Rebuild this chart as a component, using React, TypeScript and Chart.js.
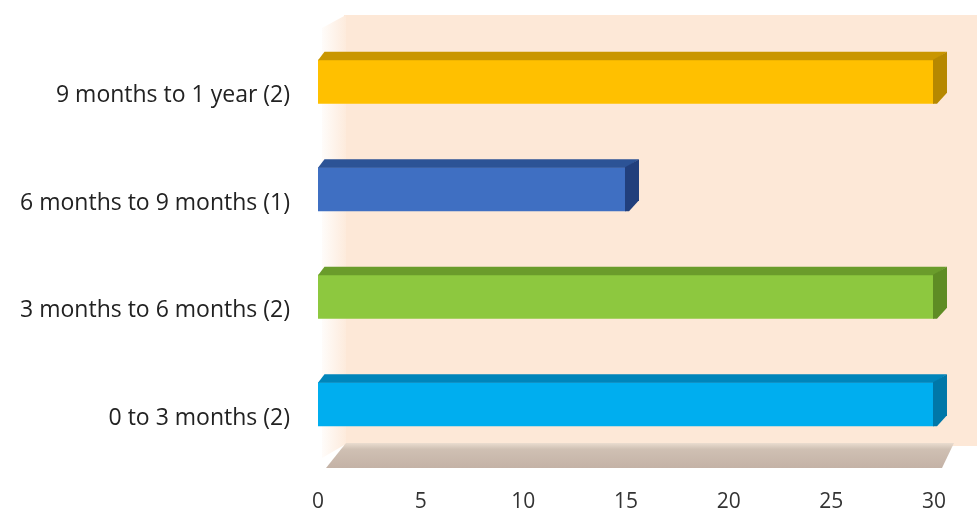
import React, { useEffect, useRef } from "react";
import { Chart, registerables } from "chart.js";

Chart.register(...registerables);

const categories = [
  "9 months to 1 year (2)",
  "6 months to 9 months (1)",
  "3 months to 6 months (2)",
  "0 to 3 months (2)",
];
const values = [30, 15, 30, 30];
const frontColors = ["#FFC000", "#3F6FC2", "#8DC83F", "#00AEEF"];
const topColors = ["#C99600", "#2C5396", "#6A9C2B", "#0085BA"];
const sideColors = ["#B68800", "#213F7C", "#5E8C24", "#0077A8"];
const xTicks = [0, 5, 10, 15, 20, 25, 30];

const DX = 13;
const DY = 8;

const scenePlugin = {
  id: "scene3d",
  beforeDatasetsDraw(chart: any) {
    const { ctx, chartArea } = chart;
    const { left, right, bottom } = chartArea;
    ctx.save();
    // back wall
    ctx.fillStyle = "#FDE8D7";
    ctx.fillRect(left + 26, 15, chart.width - left - 26, bottom - 15 - 12);
    // left side wall gradient
    const g = ctx.createLinearGradient(left, 0, left + 32, 0);
    g.addColorStop(0, "rgba(255,255,255,1)");
    g.addColorStop(1, "rgba(253,232,215,1)");
    ctx.fillStyle = g;
    ctx.beginPath();
    ctx.moveTo(left + 4, 28);
    ctx.lineTo(left + 28, 15);
    ctx.lineTo(left + 28, bottom - 14);
    ctx.lineTo(left + 4, bottom);
    ctx.closePath();
    ctx.fill();
    // floor
    const fTop = bottom - 15;
    const fBot = bottom + 10;
    const fg = ctx.createLinearGradient(0, fTop, 0, fBot);
    fg.addColorStop(0, "#EADCCF");
    fg.addColorStop(0.25, "#CFC0B3");
    fg.addColorStop(1, "#C4B2A6");
    ctx.fillStyle = fg;
    ctx.beginPath();
    ctx.moveTo(left + 28, fTop);
    ctx.lineTo(right + 20, fTop);
    ctx.lineTo(right + 8, fBot);
    ctx.lineTo(left + 8, fBot);
    ctx.closePath();
    ctx.fill();
    ctx.restore();
  },
  afterDatasetsDraw(chart: any) {
    const { ctx } = chart;
    const meta = chart.getDatasetMeta(0);
    ctx.save();
    meta.data.forEach((bar: any, i: number) => {
      const p = bar.getProps(["x", "y", "base", "height"], true);
      const t = p.y - p.height / 2;
      const b = p.y + p.height / 2;
      // top face
      ctx.fillStyle = topColors[i];
      ctx.beginPath();
      ctx.moveTo(p.base, t + 0.5);
      ctx.lineTo(p.base + DX * 0.5, t - DY);
      ctx.lineTo(p.x + DX, t - DY);
      ctx.lineTo(p.x, t + 0.5);
      ctx.closePath();
      ctx.fill();
      // side face
      ctx.fillStyle = sideColors[i];
      ctx.beginPath();
      ctx.moveTo(p.x - 1, t);
      ctx.lineTo(p.x + DX, t - DY);
      ctx.lineTo(p.x + DX, b - DY - 3);
      ctx.lineTo(p.x + 3, b);
      ctx.lineTo(p.x - 1, b);
      ctx.closePath();
      ctx.fill();
    });
    ctx.restore();
  },
};

export default function App() {
  const ref = useRef<HTMLCanvasElement | null>(null);
  useEffect(() => {
    if (!ref.current) return;
    const chart = new Chart(ref.current, {
      type: "bar",
      data: {
        labels: categories,
        datasets: [
          {
            data: values,
            backgroundColor: frontColors,
            borderWidth: 0,
            barPercentage: 0.82,
            categoryPercentage: 0.5,
          },
        ],
      },
      options: {
        indexAxis: "y",
        responsive: false,
        animation: false,
        layout: { padding: { top: 28, right: 34, bottom: 0, left: 0 } },
        plugins: { legend: { display: false }, tooltip: { enabled: false } },
        scales: {
          x: {
            min: 0,
            max: 30,
            afterBuildTicks: (scale: any) => {
              scale.ticks = xTicks.map((v) => ({ value: v }));
            },
            afterFit: (scale: any) => {
              scale.height = 57;
            },
            grid: { display: false, drawTicks: false, tickLength: 0 },
            border: { display: false },
            ticks: {
              padding: 31,
              color: "#333333",
              font: { family: "Open Sans", size: 21 },
            },
          },
          y: {
            afterFit: (scale: any) => {
              scale.width = 318;
              scale.paddingTop = 0;
              scale.paddingBottom = 0;
            },
            grid: { display: false, drawTicks: false, tickLength: 0 },
            border: { display: false },
            ticks: {
              padding: 28,
              labelOffset: 14,
              color: "#222222",
              font: { family: "Open Sans", size: 23 },
            },
          },
        },
      },
      plugins: [scenePlugin],
    });
    return () => chart.destroy();
  }, []);
  return (
    <div style={{ position: "fixed", left: 0, top: 0, width: 977, height: 515, background: "#fff" }}>
      <canvas ref={ref} width={977} height={515} style={{ display: "block" }} />
    </div>
  );
}
